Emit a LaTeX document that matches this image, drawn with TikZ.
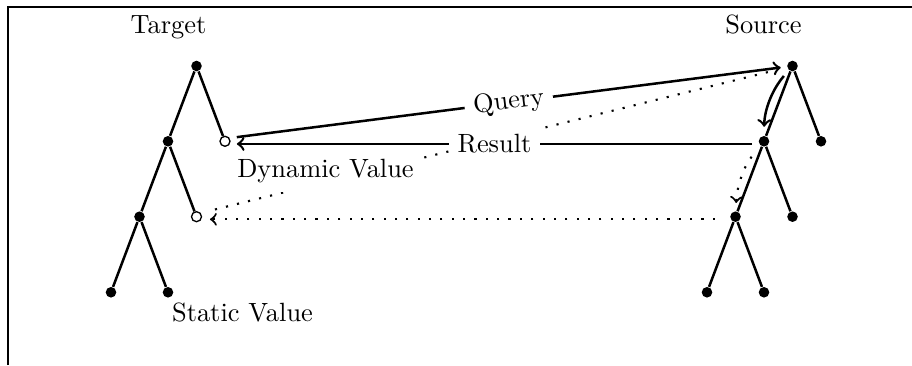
\documentclass[tikz,border=0pt]{standalone}
\begin{document}
\begin{tikzpicture}[x=0.378788pt,y=0.378788pt,
  dot/.style={circle,fill,inner sep=0pt,minimum size=4pt},
  hole/.style={circle,draw,fill=white,inner sep=0pt,minimum size=3.8pt,line width=0.5pt},
  treeline/.style={line width=0.95pt},
  flow/.style={line width=0.95pt,->,>=to,shorten <=4.5pt,shorten >=4.5pt},
  dotflow/.style={line width=0.8pt,dash pattern=on 0.8pt off 3.5pt,>=to},
  lbl/.style={fill=white,inner sep=3.33pt},
  ]
\useasboundingbox (0,0) rectangle (912,365);

% frame
\draw[line width=0.85pt] (7.8,0) -- (7.8,358.3) -- (912,358.3);

% target tree
\node[dot]  (T0)  at (196.5,299)   {};
\node[dot]  (T1)  at (168,223.7)   {};
\node[hole] (T1r) at (225,223.7)   {};
\node[dot]  (T2)  at (139.5,148.3) {};
\node[hole] (T2r) at (196.5,148.3) {};
\node[dot]  (T3l) at (111,72.7)    {};
\node[dot]  (T3r) at (168,72.7)    {};
\draw[treeline] (T0) -- (T1) (T0) -- (T1r) (T1) -- (T2) (T1) -- (T2r)
                (T2) -- (T3l) (T2) -- (T3r);

% source tree
\node[dot] (S0)  at (792.5,299)   {};
\node[dot] (S0r) at (821,223.7)   {};
\node[dot] (S1)  at (764,223.7)   {};
\node[dot] (S1r) at (792.5,148.3) {};
\node[dot] (S2)  at (735.5,148.3) {};
\node[dot] (S3l) at (707,72.7)    {};
\node[dot] (S3r) at (764,72.7)    {};
\draw[treeline] (S0) -- (S1) (S0) -- (S0r) (S1) -- (S2) (S1) -- (S1r)
                (S2) -- (S3l) (S2) -- (S3r);

% titles
\node[anchor=base] (lt) at (168.5,331) {Target};
\node[anchor=base] (ls) at (763.5,331) {Source};

% dotted path from the lower hole up to the source root
\draw[dotflow,shorten <=7.2pt,shorten >=6.8pt] ([yshift=1pt]T2r.center) -- (S0.center);

% value labels
\node[lbl,anchor=base] (ldyn) at (325.5,187) {Dynamic Value};
\node[anchor=base] (lstat) at (242.5,44) {Static Value};

% query and result
\draw[flow] ([yshift=1pt]T1r.center) -- node[lbl,sloped] {Query} (S0.center);
\draw[flow] ([yshift=-1pt]S1.center) -- node[lbl] {Result} ([yshift=-1pt]T1r.center);

% navigation inside the source tree
\draw[flow,shorten <=5pt,shorten >=5.5pt] (S0.center) to[bend right=20] (S1.center);
\draw[dotflow,->,shorten <=7.5pt,shorten >=5.2pt] (S1.center) to[bend right=18] (S2.center);

% dotted result back to the lower hole
\draw[dotflow,->,shorten <=7.8pt,shorten >=5.1pt] ([yshift=-1pt]S2.center) -- ([yshift=-1pt]T2r.center);
\end{tikzpicture}
\end{document}
